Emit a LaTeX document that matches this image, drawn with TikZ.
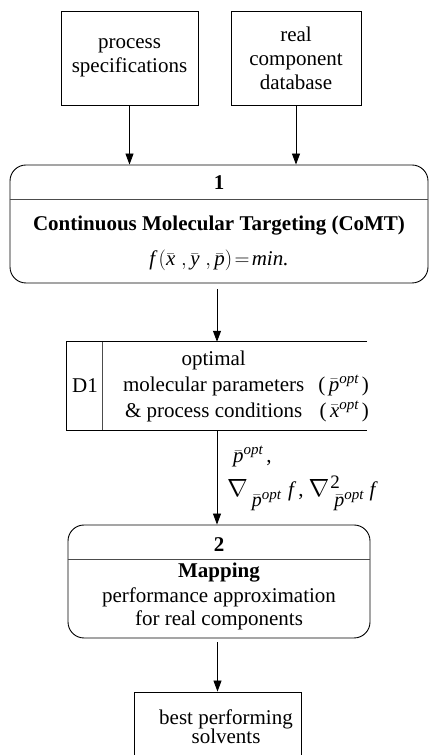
\documentclass[tikz,border=0pt]{standalone}
\usepackage{amsmath}
\usepackage{fontspec}
\setmainfont{Liberation Serif}
\usetikzlibrary{arrows.meta,calc}
\newcommand{\ivar}[1]{\text{\itshape #1}}
\newcommand{\bv}[1]{\bar{\ivar{#1}}}
\newcommand{\barvar}[4]{{\fontsize{#2}{#2}\selectfont$\bar{\ivar{#1}}$\raisebox{#4}{\fontsize{#3}{#3}\selectfont\itshape opt}}}
\newcommand{\bignabla}{{\fontsize{24}{24}\selectfont$\nabla$}}
\begin{document}
\begin{tikzpicture}[x=1pt,y=1pt,
  every node/.style={font=\fontsize{21}{24}\selectfont},
  bf/.style={font=\fontsize{21}{24}\selectfont\bfseries},
  box/.style={draw, line width=0.9pt, inner sep=0pt, align=center},
  proc/.style={draw, rounded corners=16pt, line width=0.9pt, inner sep=0pt},
  ln/.style={line width=0.9pt},
  sep/.style={line width=0.9pt, black!70},
  arr/.style={-{Triangle[length=11pt,width=8pt]}, line width=0.9pt}]
\useasboundingbox (0,0) rectangle (429,755);
\clip (0,0) rectangle (429,755);

% inputs
\node[box, minimum width=137pt, minimum height=94pt] (A) at (129.5,697) {process\\specifications};
\node[box, minimum width=130pt, minimum height=94pt] (B) at (296,697) {real\\component\\database};

% process 1
\node[proc, minimum width=418pt, minimum height=118pt] (P1) at (219,531) {};
\coordinate (d1) at (0,556);
\draw[sep] (P1.west |- d1) -- (P1.east |- d1);
\node[bf, anchor=base, inner sep=0pt] (P1n) at (219,565) {1};
\node[bf, anchor=base, inner sep=0pt] (P1t) at (219,524) {Continuous Molecular Targeting (CoMT)};
\node[anchor=base, inner sep=0pt] (P1f) at (219,489) {$\ivar{f}\,(\bv{x}\;,\bv{y}\;,\bv{p})\!=\!\ivar{min.}$};

% data store D1
\node[minimum width=300pt, minimum height=88pt, inner sep=0pt] (D1) at (217,369) {};
\draw[ln] (D1.north east) -- (D1.north west) -- (D1.south west) -- (D1.south east);
\draw[sep] ([xshift=36pt]D1.north west) -- ([xshift=36pt]D1.south west);
\node[inner sep=0pt] (D1l) at (85,369) {D1};
\node[inner sep=0pt] (D1t) at (246,369) {\renewcommand{\arraystretch}{1.08}%
  \begin{tabular}{@{}c@{\hspace{14pt}}r@{}}
  optimal & \\
  molecular parameters & (\,\barvar{p}{21}{15}{8pt}\,)\\
  \& process conditions & (\,\barvar{x}{21}{15}{8pt}\,)
  \end{tabular}};

% process 2
\node[proc, minimum width=302pt, minimum height=113pt] (P2) at (219,173.5) {};
\coordinate (d2) at (0,196);
\draw[sep] (P2.west |- d2) -- (P2.east |- d2);
\node[bf, anchor=base, inner sep=0pt] (P2n) at (219,203) {2};
\node[bf, anchor=base, inner sep=0pt] (P2t) at (219,177) {Mapping};
\node[anchor=base, inner sep=0pt] (P2a) at (219,152) {performance approximation};
\node[anchor=base, inner sep=0pt] (P2b) at (219,129) {for real components};

% output
\node[draw, line width=0.9pt, minimum width=167pt, minimum height=80pt, inner sep=0pt] (F) at (217.5,23) {};
\node[anchor=base, inner sep=0pt] (Ft1) at (226,30) {best performing};
\node[anchor=base, inner sep=0pt] (Ft2) at (226,12) {solvents};

% connectors
\draw[arr] (A.south) -- (A.south |- P1.north);
\draw[arr] (B.south) -- (B.south |- P1.north);
\draw[arr] ($(P1.south -| D1.north)+(0,-6)$) -- (D1.north);
\draw[arr] (D1.south) -- (D1.south |- P2.north);
\draw[arr] ($(P2.south -| F.north)+(0,-4)$) -- (F.north);

% labels
\node[anchor=base west, inner sep=0pt] (L1) at (233,292) {\barvar{p}{21}{15}{8pt}\,,};
\node[anchor=base west, inner sep=0pt] (L2) at (227,258) {\bignabla\hspace{4pt}\raisebox{-10pt}{\barvar{p}{20}{15}{7pt}}\hspace{7pt}\textit{f}\hspace{2pt},\hspace{5pt}\bignabla\rlap{\hspace{1pt}\raisebox{8pt}{\fontsize{19}{19}\selectfont 2}}\hspace{5pt}\raisebox{-10pt}{\barvar{p}{20}{15}{7pt}}\hspace{6pt}\textit{f}};
\end{tikzpicture}
\end{document}
